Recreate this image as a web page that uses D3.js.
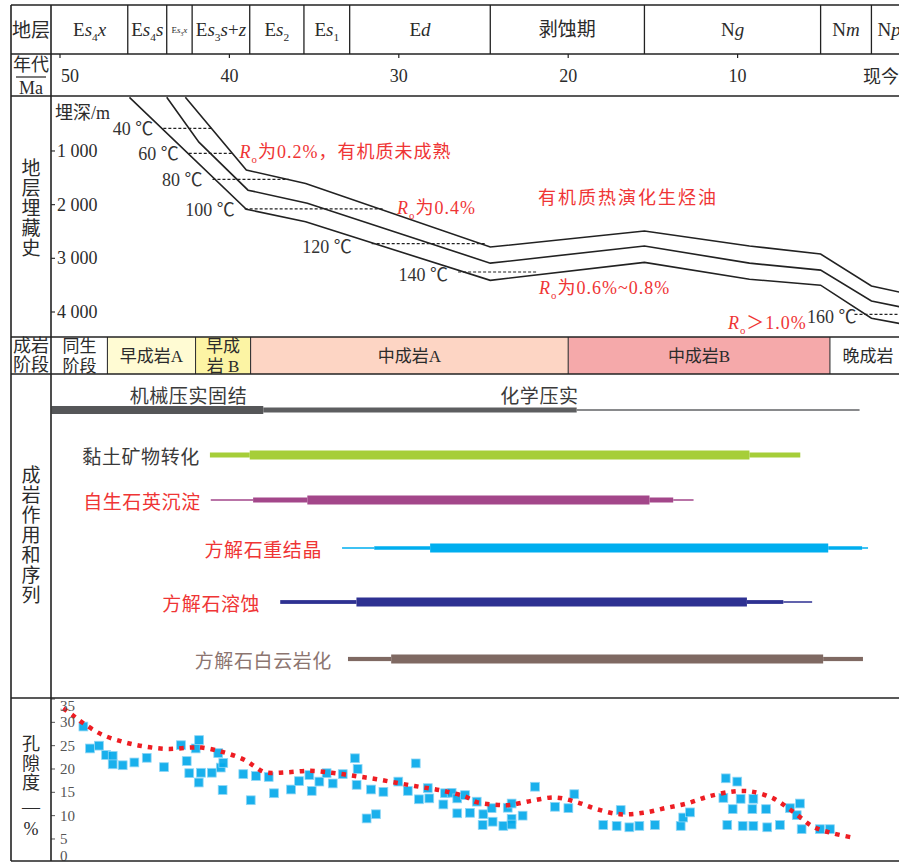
<!DOCTYPE html>
<html>
<head>
<meta charset="utf-8">
<script src="https://cdn.jsdelivr.net/npm/d3@7"></script>
<style>
  html, body { margin: 0; padding: 0; background: #fff; }
  svg { display: block; }
</style>
</head>
<body>
<svg id="chart" width="899" height="863"></svg>
<script>
// ---------------- data ----------------
// stratigraphic units and their boundary ages (Ma)
const stratUnits  = ["Es4x", "Es4s", "Es3x", "Es3s+z", "Es2", "Es1", "Ed", "剥蚀期", "Ng", "Nm", "Np"];
const stratBounds = [50.5, 46.0, 43.7, 42.2, 38.8, 35.6, 32.9, 24.6, 15.5, 5.1, 2.1, 0];
const ageTicks    = [50, 40, 30, 20, 10];
const depthTicks  = [1000, 2000, 3000, 4000];
const porosityTicks = [0, 5, 10, 15, 20, 25, 30, 35];

// burial history curves (age Ma, depth m)
const burialAgesA  = [45.9, 39.0, 35.5, 24.6, 15.5, 9.3, 5.1, 2.1, 0];
const burialDepthA = [0, 2085, 2320, 3410, 3075, 3390, 3500, 4115, 4240];
const burialAgesB  = [43.7, 41.8, 38.9, 35.4, 24.6, 15.5, 9.3, 5.1, 2.1, 0];
const burialDepthB = [0, 835, 1730, 1975, 3090, 2770, 3090, 3220, 3795, 3930];
const burialAgesC  = [42.6, 39.0, 35.5, 24.6, 15.5, 9.3, 5.1, 2.1, 0];
const burialDepthC = [0, 1355, 1605, 2790, 2490, 2770, 2920, 3515, 3660];

// isotherms
const isoTemps = [40, 60, 80, 100, 120, 140, 160];
const isoFrom  = [43.9, 42.4, 41.0, 39.1, 31.6, 26.5, 3.1];
const isoTo    = [41.0, 39.85, 36.5, 30.9, 24.9, 21.8, 0];
const isoDepth = [580, 1045, 1530, 2080, 2725, 3255, 4045];

// diagenetic stages
const stageNames  = ["同生\n阶段", "早成岩A", "早成\n岩 B", "中成岩A", "中成岩B", "晚成岩"];
const stageBounds = [50.5, 47.2, 42.0, 38.75, 20.0, 4.55, 0];
const stageColors = ["#ffffff", "#fffbd3", "#fcf4a4", "#fdd5c4", "#f5a9aa", "#ffffff"];

// compaction: [start Ma, end Ma, intensity 1-3]
const compactionSeg = [[50.5, 38.0, 3], [38.0, 19.5, 2], [19.5, 2.8, 1]];
const compactionLabels = ["机械压实固结", "化学压实"];

// diagenetic processes
const processNames = ["黏土矿物转化", "自生石英沉淀", "方解石重结晶", "方解石溶蚀", "方解石白云岩化"];
const claySeg    = [[41.15, 38.8, 2], [38.8, 9.3, 3], [9.3, 6.3, 2]];
const quartzSeg  = [[41.1, 38.6, 1], [38.6, 35.4, 2], [35.4, 15.2, 3], [15.2, 13.8, 2], [13.8, 12.6, 1]];
const recrystSeg = [[33.35, 31.45, 1], [31.45, 28.15, 2], [28.15, 4.65, 3], [4.65, 2.65, 2], [2.65, 2.3, 1]];
const dissolSeg  = [[37.0, 32.5, 2], [32.5, 9.45, 3], [9.45, 7.3, 2], [7.3, 5.6, 1]];
const dolomSeg   = [[33.0, 30.45, 2], [30.45, 4.95, 3], [4.95, 2.6, 2]];

// porosity samples (age Ma, porosity %)
const porosityAges = [
  48.62, 48.23, 47.70, 47.28, 46.89, 46.89, 46.30, 45.61, 44.88, 43.86,
  42.86, 42.52, 42.37, 41.99, 41.79, 41.81, 41.68, 41.04, 40.66, 40.51,
  40.36, 40.40, 39.18, 38.74, 38.43, 37.68, 37.37, 36.36, 35.89, 35.28,
  35.14, 34.69, 34.26, 33.90, 33.31, 32.59, 32.43, 32.49, 31.90, 31.64,
  31.35, 30.91, 30.03, 29.47, 29.00, 28.81, 28.29, 28.20, 27.37, 27.27,
  26.88, 26.55, 26.55, 26.09, 25.80, 25.40, 25.01, 25.05, 24.52, 24.46,
  23.83, 23.57, 23.34, 23.34, 23.34, 22.69, 21.96, 20.78, 19.99, 19.64,
  17.93, 17.14, 16.90, 16.39, 15.80, 14.88, 13.36, 13.21, 12.81, 10.70,
  10.02, 10.84, 10.29, 9.82, 9.07, 9.13, 8.32, 10.61, 9.70, 9.07,
  8.25, 7.50, 6.91, 6.32, 6.51, 6.22, 5.14, 4.55
];
const porosityValues = [
  29.1, 24.4, 25.0, 23.0, 22.8, 21.0, 20.8, 21.4, 22.4, 20.4,
  25.1, 21.7, 19.1, 24.4, 26.2, 17.1, 19.2, 19.2, 23.4, 20.3,
  21.3, 15.5, 18.9, 13.3, 18.5, 18.3, 14.8, 15.6, 17.4, 18.7,
  15.3, 17.3, 19.1, 16.9, 18.9, 22.3, 20.0, 16.6, 9.4, 15.6,
  10.3, 15.1, 17.3, 15.3, 21.2, 13.5, 15.9, 13.7, 12.4, 14.8,
  14.9, 13.7, 10.5, 14.4, 10.6, 13.0, 10.3, 8.0, 11.6, 8.7,
  7.8, 11.7, 12.6, 9.3, 8.1, 10.0, 16.2, 11.9, 11.6, 14.6,
  8.0, 7.8, 11.2, 7.5, 7.8, 8.0, 7.8, 9.6, 10.7, 18.0,
  17.3, 13.8, 11.4, 13.6, 13.6, 11.4, 11.4, 8.0, 7.8, 7.8,
  7.5, 8.0, 11.6, 12.6, 10.1, 7.1, 7.1, 7.1
];

// porosity evolution trend
const trendAges = [
  49.81, 49.21, 48.62, 47.54, 46.26, 44.98, 43.61, 42.23, 41.64, 40.36,
  39.08, 38.49, 37.90, 36.62, 35.24, 33.96, 32.59, 31.30, 29.93, 28.65,
  27.37, 26.09, 25.40, 24.13, 23.44, 22.15, 20.78, 19.50, 18.32, 16.94,
  15.57, 14.29, 13.00, 11.73, 10.45, 9.76, 9.07, 7.89, 6.71, 5.53,
  4.35, 3.07
];
const trendValues = [
  33.0, 31.4, 29.8, 27.4, 25.8, 24.8, 24.3, 24.6, 24.6, 23.6,
  21.9, 20.5, 19.3, 19.3, 19.6, 19.2, 18.5, 17.8, 16.9, 16.1,
  15.3, 14.1, 12.9, 12.3, 12.3, 13.2, 13.9, 12.9, 11.4, 10.3,
  10.6, 11.6, 12.6, 14.1, 15.1, 15.3, 15.1, 13.7, 10.8, 7.6,
  6.2, 5.2
];

// ---------------- layout ----------------
const W = 899, H = 863;
const frameL = 11, colX = 51, frameR = 899;
const rows = { top: 5, strat: 54, age: 96, burial: 337, stage: 374, proc: 698, bottom: 861 };
const SERIF = "'Liberation Serif','Noto Sans CJK SC',serif";
const CJK = "'Noto Sans CJK SC','Noto Sans',sans-serif";
const INK = "#2b2b2b";
const RED = "#ef3535";

const svg = d3.select("#chart");

const x = d3.scaleLinear().domain([50, 0]).range([60, 907]);
const yDepth = d3.scaleLinear().domain([0, 4000]).range([97.3, 312]);
const yPor = d3.scaleLinear().domain([0, 35]).range([862.3, 699]);
const yProc = d3.scaleOrdinal().domain(processNames).range([455, 500, 548, 602, 659]);

svg.append("defs").append("clipPath").attr("id", "plotClip")
  .append("rect").attr("x", colX).attr("y", 0).attr("width", frameR - colX).attr("height", H);
svg.select("defs").append("clipPath").attr("id", "burialClip")
  .append("rect").attr("x", colX).attr("y", rows.age).attr("width", frameR - colX).attr("height", rows.burial - rows.age);
svg.select("defs").append("clipPath").attr("id", "porClip")
  .append("rect").attr("x", colX).attr("y", rows.proc).attr("width", frameR - colX).attr("height", rows.bottom - rows.proc);

// rich text: digits as subscripts, lower-case latin letters italic
function unitParts(s) {
  if (/[\u4e00-\u9fff]/.test(s)) return [[s, "n"]];
  return s.split("").map(c => /[0-9]/.test(c) ? [c, "sub"] : (/[a-z]/.test(c) ? [c, "i"] : [c, "n"]));
}
function rich(textSel, parts, size) {
  let shift = 0;
  parts.forEach(([t, st]) => {
    const ts = textSel.append("tspan").text(t);
    let target = 0;
    if (st === "sub") { target = size * 0.28; ts.attr("font-size", size * 0.6); }
    if (st === "i") ts.attr("font-style", "italic");
    if (target !== shift) { ts.attr("dy", target - shift); shift = target; }
  });
}

// ---------------- diagenetic stage cells ----------------
const gStage = svg.append("g").attr("clip-path", "url(#plotClip)");
stageNames.forEach((name, i) => {
  const x0 = x(stageBounds[i]), x1 = x(stageBounds[i + 1]);
  gStage.append("rect").attr("x", x0).attr("y", rows.burial).attr("width", x1 - x0)
    .attr("height", rows.stage - rows.burial).attr("fill", stageColors[i]);
  const lines = name.split("\n");
  const cx = i === stageNames.length - 1 ? (x0 + 38) : (x0 + x1) / 2;
  lines.forEach((ln, j) => {
    const cy = lines.length === 1 ? 356 : (j === 0 ? 346 : 366);
    gStage.append("text").attr("x", cx).attr("y", cy)
      .attr("text-anchor", "middle").attr("dominant-baseline", "central")
      .attr("font-family", SERIF).attr("font-size", 17).attr("fill", INK).text(ln);
  });
});

// ---------------- burial history ----------------
const gBur = svg.append("g").attr("clip-path", "url(#burialClip)");
const burialLine = d3.line().x(d => x(d[0])).y(d => yDepth(d[1]));
[[burialAgesA, burialDepthA], [burialAgesB, burialDepthB], [burialAgesC, burialDepthC]].forEach(([a, dpt]) => {
  gBur.append("path").datum(d3.zip(a, dpt)).attr("d", burialLine)
    .attr("fill", "none").attr("stroke", "#222").attr("stroke-width", 1.6);
});
isoTemps.forEach((t, i) => {
  const yy = yDepth(isoDepth[i]);
  gBur.append("line").attr("x1", x(isoFrom[i])).attr("x2", x(isoTo[i]))
    .attr("y1", yy).attr("y2", yy)
    .attr("stroke", "#222").attr("stroke-width", 1.2).attr("stroke-dasharray", "3,2");
  const gap = t === 120 ? 20 : (t === 160 ? -2 : 10);
  gBur.append("text").attr("x", x(isoFrom[i]) - gap).attr("y", yy + (t >= 120 ? 3 : 1))
    .attr("text-anchor", "end").attr("dominant-baseline", "central")
    .attr("font-family", SERIF).attr("font-size", 18).attr("fill", "#333")
    .text(t + " ℃");
});

// maturity annotations
const notes = [
  { age: 39.4, depth: 1020, parts: [["R", "i"], ["o", "sub"], ["为0.2%，有机质未成熟", "n"]], ls: 1 },
  { age: 30.1, depth: 2063, parts: [["R", "i"], ["o", "sub"], ["为0.4%", "n"]], ls: 1 },
  { age: 21.78, depth: 1876, parts: [["有机质热演化生烃油", "n"]], ls: 2 },
  { age: 21.72, depth: 3553, parts: [["R", "i"], ["o", "sub"], ["为0.6%~0.8%", "n"]], ls: 1 },
  { age: 10.57, depth: 4205, parts: [["R", "i"], ["o", "sub"], ["＞1.0%", "n"]], ls: 1 }
];
notes.forEach(n => {
  const t = svg.append("text").attr("x", x(n.age)).attr("y", yDepth(n.depth) + 6)
    .attr("font-family", SERIF).attr("font-size", 18).attr("fill", RED)
    .attr("letter-spacing", n.ls);
  rich(t, n.parts, 18);
});

svg.append("text").attr("x", 55).attr("y", 119)
  .attr("font-family", SERIF).attr("font-size", 18).attr("fill", INK).text("埋深/m");

// depth axis
const fmtDepth = v => d3.format(",")(v).replace(",", " ");
depthTicks.forEach(d => {
  const yy = yDepth(d);
  svg.append("line").attr("x1", colX).attr("x2", colX + 4).attr("y1", yy).attr("y2", yy)
    .attr("stroke", "#333").attr("stroke-width", 1.2);
  svg.append("text").attr("x", 57).attr("y", yy).attr("dominant-baseline", "central")
    .attr("font-family", SERIF).attr("font-size", 18).attr("fill", INK).text(fmtDepth(d));
});

// ---------------- diagenetic processes ----------------
const gProc = svg.append("g");
const segWidth = lv => lv === 3 ? 9 : (lv === 2 ? 4.5 : 1.5);
// compaction
const compY = 410;
const compColor = ["#6d6e70", "#5d5e60", "#555658"];
const compW = [1.6, 5, 8];
compactionSeg.forEach(s => {
  gProc.append("rect").attr("x", x(s[0])).attr("width", x(s[1]) - x(s[0]))
    .attr("y", compY - compW[s[2] - 1] / 2).attr("height", compW[s[2] - 1])
    .attr("fill", compColor[s[2] - 1]);
});
gProc.append("text").attr("x", x(compactionSeg[0][1]) - 16).attr("y", 394)
  .attr("text-anchor", "end").attr("dominant-baseline", "central")
  .attr("font-family", CJK).attr("font-size", 19).attr("letter-spacing", 0.6)
  .attr("fill", "#3a3a3a").text(compactionLabels[0]);
gProc.append("text").attr("x", x(compactionSeg[1][1]) + 2).attr("y", 394)
  .attr("text-anchor", "end").attr("dominant-baseline", "central")
  .attr("font-family", CJK).attr("font-size", 19).attr("letter-spacing", 0.6)
  .attr("fill", "#3a3a3a").text(compactionLabels[1]);

const procSegs = [claySeg, quartzSeg, recrystSeg, dissolSeg, dolomSeg];
const procColors = ["#a6ce39", "#a3478a", "#00aeef", "#2e3192", "#7f6962"];
const procLabelColors = ["#3a3a3a", RED, RED, RED, "#8c7570"];
const procLabelGap = [10, 10, 20, 20, 16];
const procMidWidth = [5, 5, 3.5, 3.8, 4.2];
processNames.forEach((name, i) => {
  const cy = yProc(name);
  procSegs[i].forEach(s => {
    const w = s[2] === 2 ? procMidWidth[i] : segWidth(s[2]);
    gProc.append("rect").attr("x", x(s[0])).attr("width", x(s[1]) - x(s[0]))
      .attr("y", cy - w / 2).attr("height", w).attr("fill", procColors[i]);
  });
  gProc.append("text").attr("x", x(procSegs[i][0][0]) - procLabelGap[i]).attr("y", cy)
    .attr("text-anchor", "end").attr("dominant-baseline", "central")
    .attr("font-family", CJK).attr("font-size", 19).attr("letter-spacing", 0.6)
    .attr("fill", procLabelColors[i]).text(name);
});

// ---------------- porosity ----------------
const gPor = svg.append("g").attr("clip-path", "url(#porClip)");
const sq = 8.8;
gPor.selectAll("rect.pt").data(d3.zip(porosityAges, porosityValues)).join("rect")
  .attr("class", "pt")
  .attr("x", d => x(d[0]) - sq / 2).attr("y", d => yPor(d[1]) - sq / 2)
  .attr("width", sq).attr("height", sq)
  .attr("fill", "#05a9ea").attr("fill-opacity", 0.92)
  .attr("stroke", "#8fd6f5").attr("stroke-width", 0.8);
gPor.append("path").datum(d3.zip(trendAges, trendValues))
  .attr("d", d3.line().x(d => x(d[0])).y(d => yPor(d[1])).curve(d3.curveCatmullRom.alpha(0.5)))
  .attr("fill", "none").attr("stroke", "#ee1d23").attr("stroke-width", 4.5)
  .attr("stroke-dasharray", "4.5,6");

porosityTicks.forEach(p => {
  const yy = yPor(p);
  if (p > 0) {
    svg.append("line").attr("x1", colX).attr("x2", colX + 4).attr("y1", yy).attr("y2", yy)
      .attr("stroke", "#555").attr("stroke-width", 1);
  }
  svg.append("text").attr("x", 60).attr("y", Math.min(Math.max(yy, 706), 856))
    .attr("dominant-baseline", "central")
    .attr("font-family", SERIF).attr("font-size", 15).attr("fill", "#555").text(p);
});

// ---------------- header rows ----------------
const gHead = svg.append("g").attr("clip-path", "url(#plotClip)");
stratUnits.forEach((u, i) => {
  const x0 = x(stratBounds[i]), x1 = x(stratBounds[i + 1]);
  const narrow = (x1 - x0) < 30;
  const size = narrow ? 9 : 19;
  const t = gHead.append("text").attr("x", (x0 + x1) / 2).attr("y", narrow ? 33 : 36)
    .attr("text-anchor", "middle")
    .attr("font-family", SERIF).attr("font-size", size).attr("fill", INK);
  rich(t, unitParts(u), size);
  if (i > 0) {
    gHead.append("line").attr("x1", x0).attr("x2", x0).attr("y1", rows.top).attr("y2", rows.strat)
      .attr("stroke", "#222").attr("stroke-width", 1.3);
  }
});
ageTicks.forEach(a => {
  gHead.append("line").attr("x1", x(a)).attr("x2", x(a)).attr("y1", rows.strat).attr("y2", rows.strat + 4)
    .attr("stroke", "#222").attr("stroke-width", 1.2);
  gHead.append("text").attr("x", a === 50 ? x(a) + 1 : x(a)).attr("y", 76)
    .attr("text-anchor", a === 50 ? "start" : "middle").attr("dominant-baseline", "central")
    .attr("font-family", SERIF).attr("font-size", 18).attr("fill", INK).text(a);
});
gHead.append("text").attr("x", x(0) - 8).attr("y", 75)
  .attr("text-anchor", "end").attr("dominant-baseline", "central")
  .attr("font-family", CJK).attr("font-size", 18).attr("fill", INK).text("现今");

// stage cell dividers
stageBounds.slice(1, -1).forEach(b => {
  svg.append("line").attr("x1", x(b)).attr("x2", x(b)).attr("y1", rows.burial).attr("y2", rows.stage)
    .attr("stroke", "#333").attr("stroke-width", 1.1);
});

// ---------------- frame ----------------
[rows.top, rows.strat, rows.age, rows.burial, rows.stage, rows.proc, rows.bottom].forEach(yy => {
  svg.append("line").attr("x1", frameL).attr("x2", frameR).attr("y1", yy).attr("y2", yy)
    .attr("stroke", "#222").attr("stroke-width", 1.6);
});
[frameL, colX].forEach(xx => {
  svg.append("line").attr("x1", xx).attr("x2", xx).attr("y1", rows.top).attr("y2", rows.bottom)
    .attr("stroke", "#222").attr("stroke-width", 1.6);
});

// left column titles
const cx0 = (frameL + colX) / 2;
function colText(str, cy, size) {
  svg.append("text").attr("x", cx0).attr("y", cy).attr("text-anchor", "middle")
    .attr("dominant-baseline", "central").attr("font-family", SERIF)
    .attr("font-size", size).attr("fill", INK).text(str);
}
colText("地层", 30, 19);
colText("年代", 65, 18);
svg.append("line").attr("x1", 16).attr("x2", 46).attr("y1", 77).attr("y2", 77)
  .attr("stroke", "#222").attr("stroke-width", 1.2);
colText("Ma", 88, 18);
colText("成岩", 346, 18);
colText("阶段", 365, 18);
function vertical(str, y0, step, size) {
  str.split("").forEach((c, i) => colText(c, y0 + i * step, size));
}
vertical("地层埋藏史", 168, 20, 19);
vertical("成岩作用和序列", 475, 20, 19);
vertical("孔隙度", 744, 19.5, 18);
colText("—", 807, 18);
colText("%", 829, 18);
</script>
</body>
</html>
